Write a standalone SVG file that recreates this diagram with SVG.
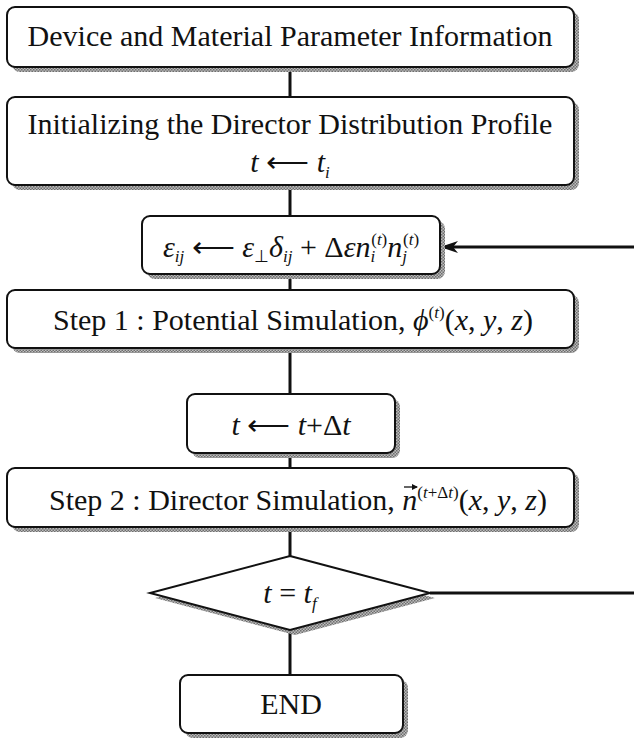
<svg xmlns="http://www.w3.org/2000/svg" width="634" height="740" viewBox="0 0 634 740">
<defs>
<pattern id="hatch" width="3" height="3" patternUnits="userSpaceOnUse">
<rect width="3" height="3" fill="#bdbdbd"/>
<rect width="1.5" height="1.5" fill="#6e6e6e"/>
<rect x="1.5" y="1.5" width="1.5" height="1.5" fill="#6e6e6e"/>
</pattern>
<marker id="arr" markerWidth="18" markerHeight="12" refX="17" refY="6" orient="auto" markerUnits="userSpaceOnUse">
<path d="M0,0 L18,6 L0,12 L5,6 z" fill="#111"/>
</marker>
<marker id="varr" markerWidth="6" markerHeight="6" refX="5" refY="3" orient="auto" markerUnits="userSpaceOnUse">
<path d="M0,0 L6,3 L0,6 z" fill="#111"/>
</marker>
</defs>
<style>
.box{fill:#fff;stroke:#111;stroke-width:2}
.sh{fill:url(#hatch);stroke:none}
.t{font-family:"Liberation Serif","Times New Roman",serif;font-size:30px;fill:#111;text-anchor:middle}
.m{font-style:italic}
.s{font-size:17px}
.conn{stroke:#111;stroke-width:3;fill:none}
</style>
<g id="connectors">
<line class="conn" x1="290" y1="67" x2="290" y2="97"/>
<line class="conn" x1="290" y1="185" x2="290" y2="216"/>
<line class="conn" x1="290" y1="274" x2="290" y2="290"/>
<line class="conn" x1="290" y1="348" x2="290" y2="394"/>
<line class="conn" x1="290" y1="453" x2="290" y2="468"/>
<line class="conn" x1="290" y1="527" x2="290" y2="556"/>
<line class="conn" x1="290" y1="630" x2="290" y2="675"/>
<path class="conn" d="M430,593 H640 V247 H441" marker-end="url(#arr)"/>
</g>
<g id="n1">
<rect class="sh" x="12" y="12" width="567" height="60" rx="8"/>
<rect class="box" x="7" y="7" width="567" height="60" rx="8"/>
<text class="t" x="290" y="46">Device and Material Parameter Information</text>
</g>
<g id="n2">
<rect class="sh" x="12" y="102" width="567" height="88" rx="8"/>
<rect class="box" x="7" y="97" width="567" height="88" rx="8"/>
<text class="t" x="290" y="134">Initializing the Director Distribution Profile</text>
<text class="t" x="290" y="172"><tspan class="m">t</tspan> ⟵ <tspan class="m">t</tspan><tspan class="m s" dy="6">i</tspan></text>
</g>
<g id="n3">
<rect class="sh" x="147" y="221" width="298" height="58" rx="8"/>
<rect class="box" x="142" y="216" width="298" height="58" rx="8"/>
<text class="t" x="291" y="257"><tspan class="m">ε</tspan><tspan class="m s" dy="5">ij</tspan><tspan dy="-5"> ⟵ </tspan><tspan class="m">ε</tspan><tspan class="s" dy="5">⊥</tspan><tspan class="m" dy="-5">δ</tspan><tspan class="m s" dy="5">ij</tspan><tspan dy="-5"> + Δ</tspan><tspan class="m">εn</tspan><tspan class="m s" dy="5">i</tspan><tspan class="s" dy="-17" dx="-4">(<tspan class="m">t</tspan>)</tspan><tspan class="m" dy="12">n</tspan><tspan class="m s" dy="5">j</tspan><tspan class="s" dy="-17" dx="-4">(<tspan class="m">t</tspan>)</tspan></text>
</g>
<g id="n4">
<rect class="sh" x="12" y="295" width="567" height="58" rx="8"/>
<rect class="box" x="7" y="290" width="567" height="58" rx="8"/>
<text class="t" x="293" y="330">Step 1 : Potential Simulation, <tspan class="m">ϕ</tspan><tspan class="s" dy="-12">(<tspan class="m">t</tspan>)</tspan><tspan dy="12">(</tspan><tspan class="m">x</tspan>, <tspan class="m">y</tspan>, <tspan class="m">z</tspan>)</text>
</g>
<g id="n5">
<rect class="sh" x="192" y="399" width="208" height="59" rx="8"/>
<rect class="box" x="187" y="394" width="208" height="59" rx="8"/>
<text class="t" x="291" y="435"><tspan class="m">t</tspan> ⟵ <tspan class="m">t</tspan>+Δ<tspan class="m">t</tspan></text>
</g>
<g id="n6">
<rect class="sh" x="12" y="473" width="567" height="59" rx="8"/>
<rect class="box" x="7" y="468" width="567" height="59" rx="8"/>
<text class="t" x="298" y="510">Step 2 : Director Simulation, <tspan class="m">n</tspan><tspan class="s" dy="-12">(<tspan class="m">t</tspan>+Δ<tspan class="m">t</tspan>)</tspan><tspan dy="12">(</tspan><tspan class="m">x</tspan>, <tspan class="m">y</tspan>, <tspan class="m">z</tspan>)</text>
<line x1="404" y1="487" x2="417" y2="487" stroke="#111" stroke-width="1.3" marker-end="url(#varr)"/>
</g>
<g id="n7">
<polygon class="sh" points="295,561 435,598 295,635 155,598"/>
<polygon class="box" points="290,556 430,593 290,630 150,593"/>
<text class="t" x="290" y="603"><tspan class="m">t</tspan> = <tspan class="m">t</tspan><tspan class="m s" dy="6">f</tspan></text>
</g>
<g id="n8">
<rect class="sh" x="185" y="680" width="223" height="58" rx="8"/>
<rect class="box" x="180" y="675" width="223" height="58" rx="8"/>
<text class="t" x="291" y="714">END</text>
</g>
</svg>
